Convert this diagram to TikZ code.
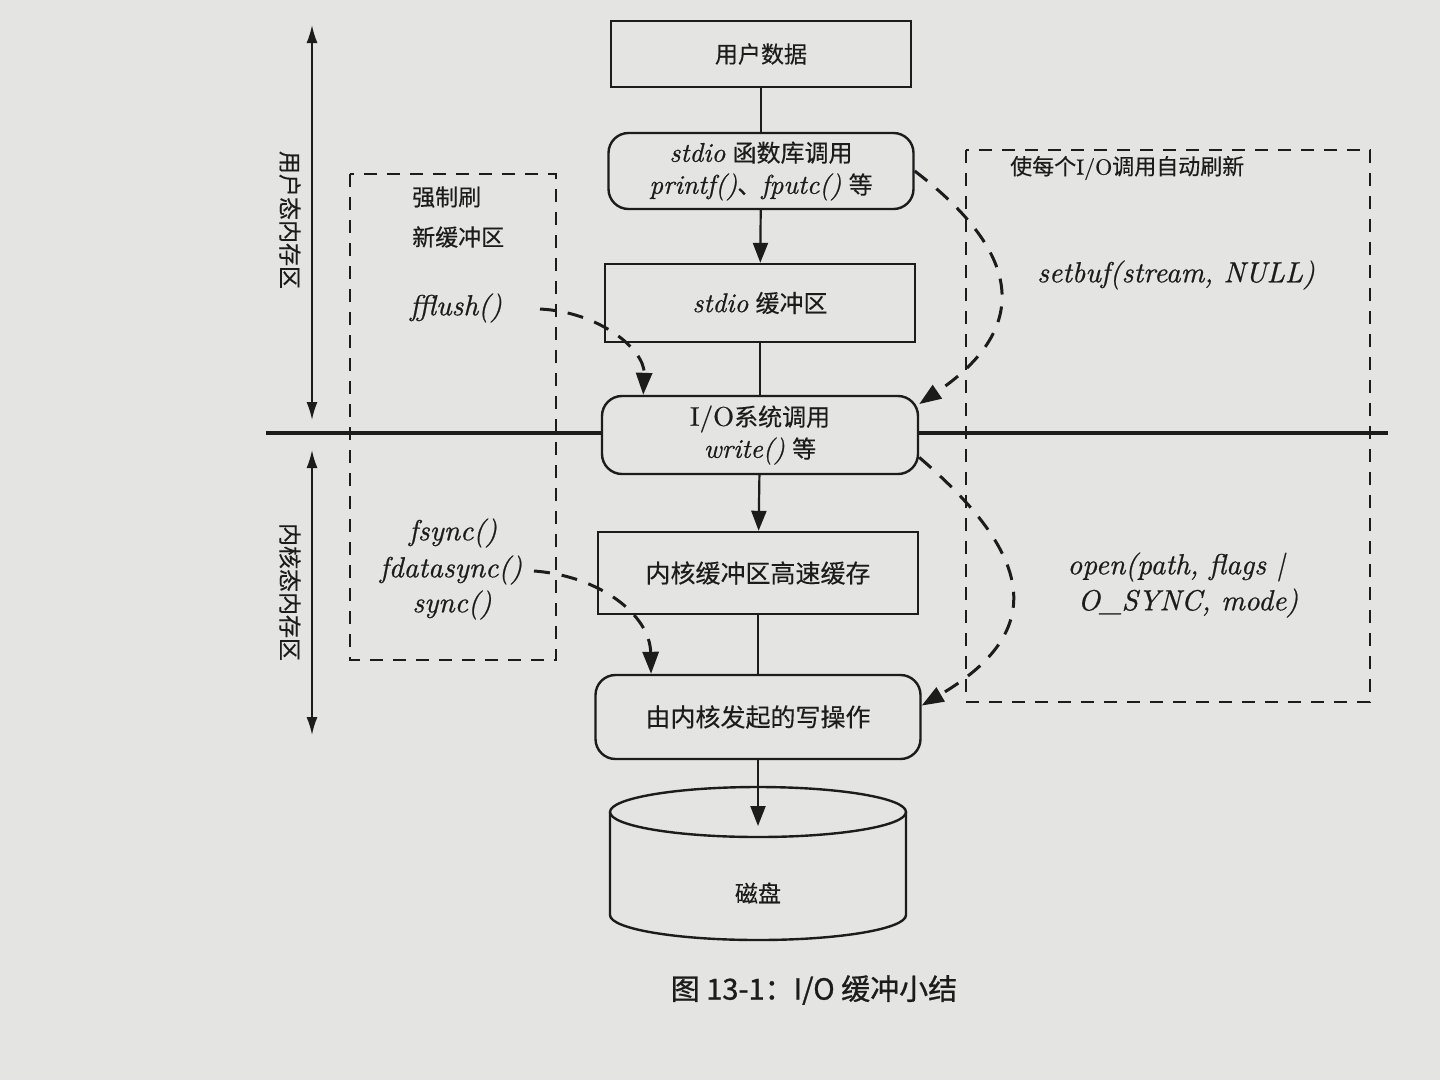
\documentclass[tikz,border=0pt]{standalone}
\usepackage{fontspec}
\newfontfamily\cjk{Noto Sans CJK SC}[FakeBold=0.3]
\newfontfamily\cjkcap{Noto Sans CJK SC}[FakeBold=0.9]
\newfontfamily\lmit{lmroman10-italic.otf}[FakeBold=0.7]
\newfontfamily\lmrm{lmroman10-regular.otf}[FakeBold=0.5]
\usetikzlibrary{arrows.meta}
\definecolor{paper}{HTML}{E4E4E2}
\definecolor{ink}{HTML}{1C1C1C}
\begin{document}
\begin{tikzpicture}[x=1pt,y=-1pt,
  box/.style={draw=ink, line width=2.4pt, font=\fontsize{25}{32}\selectfont, align=center, text=ink, inner sep=0pt},
  rbox/.style={box, rounded corners=20pt},
  arr/.style={draw=ink, line width=2.2pt, -{Triangle[length=20pt,width=15pt]}},
  plain/.style={draw=ink, line width=2.2pt},
  dbox/.style={draw=ink, line width=1.6pt, dash pattern=on 13pt off 10pt},
  darr/.style={draw=ink, line width=3pt, dash pattern=on 16pt off 12pt, -{Triangle[length=22pt,width=16pt]}},
  side/.style={draw=ink, line width=1.8pt, {Latex[length=18pt,width=11pt]}-{Latex[length=18pt,width=11pt]}},
  lbl/.style={font=\fontsize{23}{30}\selectfont, text=ink, inner sep=0pt},
  it/.style={font=\fontsize{29}{34}\selectfont\lmit, text=ink, inner sep=0pt}
]
\fill[paper] (0,0) rectangle (1440,1080);
\useasboundingbox (0,0) rectangle (1440,1080);

% central column
\node[box, minimum width=300, minimum height=66, font=\fontsize{23}{30}\selectfont] (ud) at (761,54) {\cjk 用户数据};
\node[rbox, minimum width=305, minimum height=76, font=\fontsize{24}{32}\selectfont] (lib) at (761,171)
  {{\fontsize{27}{32}\selectfont\lmit stdio} {\cjk 函数库调用}\\ {\fontsize{27}{32}\selectfont\lmit printf()}{\cjk 、}{\fontsize{27}{32}\selectfont\lmit fputc()} {\cjk 等}};
\node[box, minimum width=310, minimum height=78, font=\fontsize{24}{32}\selectfont] (buf) at (760,303) {{\fontsize{27}{32}\selectfont\lmit stdio} {\cjk 缓冲区}};
\node[rbox, minimum width=316, minimum height=78, font=\fontsize{24}{32}\selectfont] (sys) at (760,435)
  {{\fontsize{27}{32}\selectfont\lmrm I/O}{\cjk 系统调用}\\ {\fontsize{27}{32}\selectfont\lmit write()} {\cjk 等}};
\node[box, minimum width=320, minimum height=82] (kc) at (758,573) {\cjk 内核缓冲区高速缓存};
\node[rbox, minimum width=325, minimum height=84] (kw) at (758,717) {\cjk 由内核发起的写操作};

% disk
\draw[ink, line width=2.4pt] (758,812) ellipse [x radius=148pt, y radius=25pt];
\draw[ink, line width=2.4pt] (610,812) -- (610,915)
  arc[start angle=180, end angle=360, x radius=148pt, y radius=25pt] -- (906,812);
\node[lbl] (disk) at (758,893) {\cjk 磁盘};
\coordinate (diskin) at (758,826);

% vertical connectors
\draw[plain] (ud) -- (lib);
\draw[arr] (lib) -- (buf);
\draw[plain] (buf) -- (sys);
\draw[arr] (sys) -- (kc);
\draw[plain] (kc) -- (kw);
\draw[arr] (kw) -- (diskin);

% divider
\coordinate (hl) at (266,433);
\coordinate (hr) at (1388,433);
\draw[ink, line width=4pt] (hl) -- (sys.west |- hl);
\draw[ink, line width=4pt] (sys.east |- hr) -- (hr);

% side arrows
\coordinate (u1) at (312,25);
\coordinate (u2) at (312,420);
\coordinate (k1) at (312,450);
\coordinate (k2) at (312,735);
\draw[side] (u1) -- (u2);
\draw[side] (k1) -- (k2);
\node[lbl, rotate=-90] (ulab) at (290,220) {\cjk 用户态内存区};
\node[lbl, rotate=-90] (klab) at (290,592) {\cjk 内核态内存区};

% left dashed box
\draw[dbox] (350,174) rectangle (556,660);
\node[lbl, anchor=west] (f1) at (412,197) {\cjk 强制刷};
\node[lbl, anchor=west] (f2) at (412,237) {\cjk 新缓冲区};
\node[it] (ff) at (456,308) {fflush()};
\node[it] (fs) at (453,533) {fsync()};
\node[it] (fd) at (451,570) {fdatasync()};
\node[it] (sy) at (452,605) {sync()};
\coordinate (ffs) at (540,309);
\coordinate (fds) at (534,571);

% right dashed box
\draw[dbox] (966,150) rectangle (1370,702);
\node[lbl, anchor=west, font=\fontsize{22}{28}\selectfont] (auto) at (1010,168)
  {{\cjk 使每个}{\lmrm I/O}{\cjk 调用自动刷新}};
\node[it] (sb) at (1176,275) {setbuf(stream, NULL)};
\node[it] (op1) at (1176,567) {open(path, flags |};
\node[it] (op2) at (1188,603) {O\_SYNC, mode)};

% dashed curved arrows
\draw[darr] (lib.east) .. controls (1023,254) and (1031,328) .. (sys.11);
\draw[darr] (sys.-8) .. controls (1032,554) and (1050,630) .. (kw.4);
\draw[darr] (ffs) .. controls (600,312) and (645,350) .. (sys.161);
\draw[darr] (fds) .. controls (600,576) and (650,615) .. (kw.158);

% caption
\node[font=\fontsize{29}{34}\selectfont\cjkcap, text=ink, inner sep=0pt] (cap) at (814,990)
  {图 13-1：I/O 缓冲小结};
\end{tikzpicture}
\end{document}
